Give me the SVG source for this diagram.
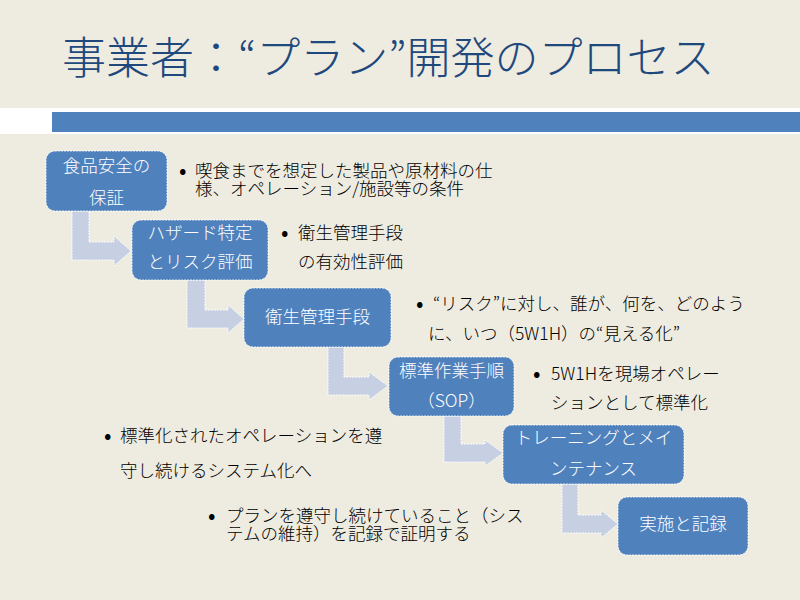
<svg xmlns="http://www.w3.org/2000/svg" width="800" height="600" viewBox="0 0 800 600">
<style>
.bg{fill:#EEECE1}
.node{fill:#4F81BD;stroke:#FFFFFF;stroke-width:1;stroke-dasharray:2 1;stroke-opacity:0.8}
.arrow{fill:#C6D0E2;stroke:#FFFFFF;stroke-width:1;stroke-dasharray:2 1;stroke-opacity:0.9}
.nt{font-family:"Noto Sans CJK JP","Noto Sans",sans-serif;font-size:17.5px;fill:#FFFFFF;text-anchor:middle;font-weight:300}
.bt{font-family:"Noto Sans CJK JP","Noto Sans",sans-serif;font-size:17.5px;fill:#000000;font-weight:300}
.bl{font-family:"Noto Sans CJK JP","Noto Sans",sans-serif;font-size:22px;fill:#000000}
.title{font-family:"Noto Sans CJK JP","Noto Sans",sans-serif;font-size:44px;fill:#1F497D;font-weight:300}
</style>
<rect class="bg" x="0" y="0" width="800" height="600"/>
<rect x="0" y="108" width="800" height="26" fill="#FFFFFF"/>
<rect x="52" y="112" width="748" height="20" fill="#4F81BD"/>
<text class="title" x="62" y="74">事業者：“プラン”開発のプロセス</text>

<g id="connectors">
<path class="arrow" d="M72 211 L89 211 L89 242 L114 242 L114 236 L131 251 L114 266 L114 260 L72 260 Z"/>
<path class="arrow" d="M187 280 L205 280 L205 310 L228 310 L228 305 L244 319 L228 333 L228 328 L187 328 Z"/>
<path class="arrow" d="M328 347 L344 347 L344 377 L369 377 L369 372 L388 386 L369 400 L369 395 L328 395 Z"/>
<path class="arrow" d="M444 416 L461 416 L461 444 L485 444 L485 440 L503 453 L485 466 L485 462 L444 462 Z"/>
<path class="arrow" d="M562 484 L578 484 L578 515 L601 515 L601 510 L618 524 L601 538 L601 533 L562 533 Z"/>
</g>

<g id="node1">
<rect class="node" x="46" y="151" width="121" height="60" rx="9"/>
<text class="nt" x="106.5" y="171.5">食品安全の</text>
<text class="nt" x="106.5" y="203.5">保証</text>
</g>
<g id="node2">
<rect class="node" x="132" y="220" width="136" height="60" rx="9"/>
<text class="nt" x="200" y="239">ハザード特定</text>
<text class="nt" x="200" y="268">とリスク評価</text>
</g>
<g id="node3">
<rect class="node" x="244" y="288" width="147" height="59" rx="9"/>
<text class="nt" x="317.5" y="323">衛生管理手段</text>
</g>
<g id="node4">
<rect class="node" x="389" y="357" width="125" height="59" rx="9"/>
<text class="nt" x="451.5" y="377">標準作業手順</text>
<text class="nt" x="451.5" y="407">（SOP）</text>
</g>
<g id="node5">
<rect class="node" x="503" y="425" width="181" height="59" rx="9"/>
<text class="nt" x="593.5" y="444">トレーニングとメイ</text>
<text class="nt" x="593.5" y="475">ンテナンス</text>
</g>
<g id="node6">
<rect class="node" x="618" y="497" width="130" height="58" rx="9"/>
<text class="nt" x="683" y="530">実施と記録</text>
</g>

<g id="notes">
<text class="bl" x="179" y="178">•</text>
<text class="bt" x="195" y="177">喫食までを想定した製品や原材料の仕</text>
<text class="bt" x="195" y="195">様、オペレーション/施設等の条件</text>

<text class="bl" x="281" y="240">•</text>
<text class="bt" x="298" y="239">衛生管理手段</text>
<text class="bt" x="298" y="268">の有効性評価</text>

<text class="bl" x="416" y="311">•</text>
<text class="bt" x="433" y="310">“リスク”に対し、誰が、何を、どのよう</text>
<text class="bt" x="428" y="340">に、いつ（5W1H）の“見える化”</text>

<text class="bl" x="533" y="381">•</text>
<text class="bt" x="551" y="380">5W1Hを現場オペレー</text>
<text class="bt" x="551" y="409">ションとして標準化</text>

<text class="bl" x="104" y="443">•</text>
<text class="bt" x="120" y="442">標準化されたオペレーションを遵</text>
<text class="bt" x="120" y="477">守し続けるシステム化へ</text>

<text class="bl" x="208" y="523">•</text>
<text class="bt" x="226" y="522">プランを遵守し続けていること（シス</text>
<text class="bt" x="226" y="540">テムの維持）を記録で証明する</text>
</g>
</svg>
